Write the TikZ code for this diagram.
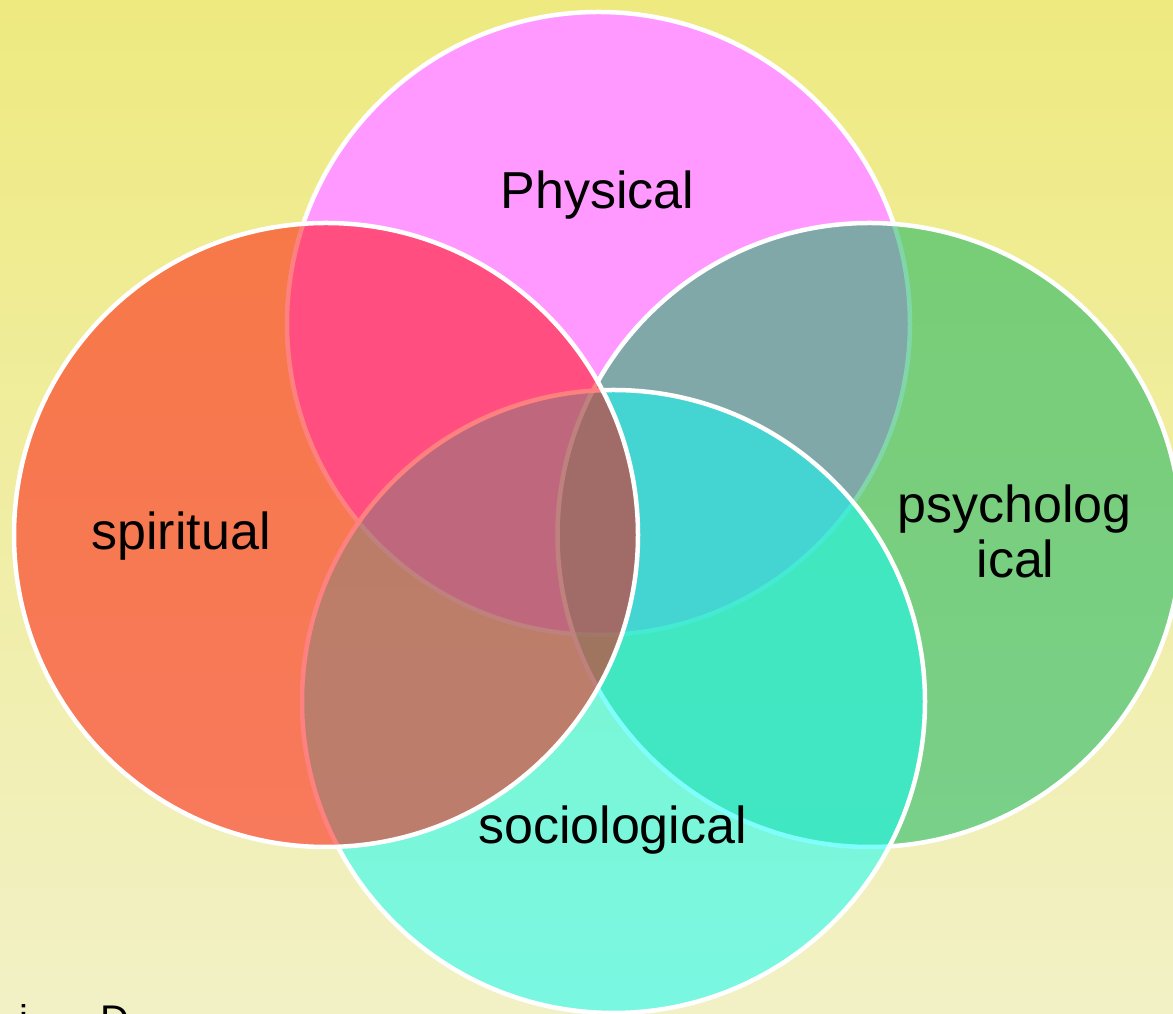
\documentclass[tikz,border=0pt]{standalone}
\usepackage{fontspec}
\setmainfont{Liberation Sans}
\definecolor{bgtop}{RGB}{238,234,128}
\definecolor{bgbot}{RGB}{242,241,198}
\definecolor{physc}{RGB}{255,153,255}
\definecolor{psyc}{RGB}{24,182,97}
\definecolor{socc}{RGB}{13,254,250}
\definecolor{spic}{RGB}{255,5,0}
\begin{document}
\begin{tikzpicture}[x=1pt,y=1pt,
  ring/.style={draw=white,line width=4.5pt,draw opacity=1},
  lbl/.style={font=\fontsize{52}{55}\selectfont,text=black,inner sep=0pt,anchor=base},
  cut/.style={font=\fontsize{40}{44}\selectfont,text=black,inner sep=0pt,anchor=base west}]
\useasboundingbox (0,0) rectangle (1173,1014);
\clip (0,0) rectangle (1173,1014);
\shade[top color=bgtop,bottom color=bgbot] (0,0) rectangle (1173,1014);
% Physical (bottom)
\path[ring,fill=physc] (598.5,690.5) circle[radius=311.5pt];
% psychological
\path[ring,fill=psyc,fill opacity=0.55] (869.5,479) circle[radius=312pt];
% sociological
\path[ring,fill=socc,fill opacity=0.52] (613.5,312.5) circle[radius=311.5pt];
% spiritual (top)
\path[ring,fill=spic,fill opacity=0.5] (326,479) circle[radius=312pt];
% labels
\node[lbl] (phys) at (597.5,805) {Physical};
\node[lbl] (spir) at (181,464) {spiritual};
\node[lbl] (psy1) at (1014.5,491) {psycholog};
\node[lbl] (psy2) at (1015.5,436) {ical};
\node[lbl] (soc) at (612.5,170) {sociological};
\node[cut] (cuti) at (19,-20) {i};
\node[cut] (cutd) at (100,-20) {D};
\end{tikzpicture}
\end{document}
